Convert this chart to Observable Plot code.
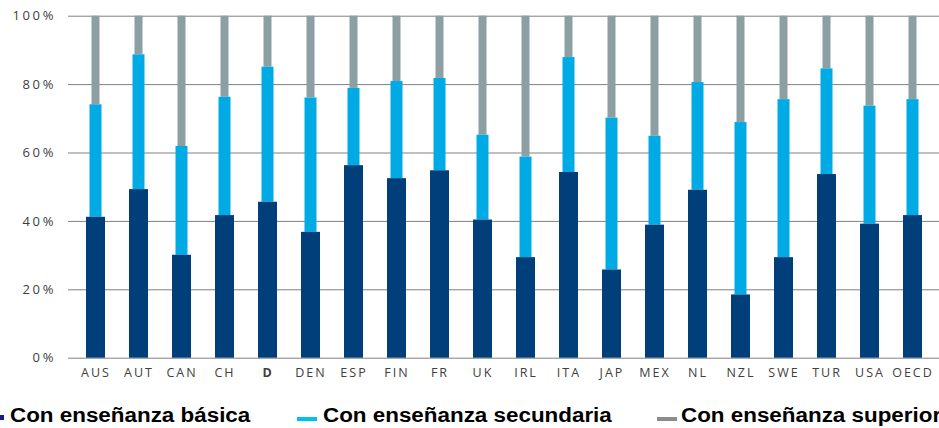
<!DOCTYPE html>
<html>
<head>
<meta charset="utf-8">
<script src="https://cdn.jsdelivr.net/npm/d3@7"></script>
<script src="https://cdn.jsdelivr.net/npm/@observablehq/plot@0.6"></script>
<style>
  html, body { margin: 0; padding: 0; background: #fff; }
  #wrap { width: 939px; height: 428px; overflow: hidden; position: relative; }
  #chart svg g[aria-label='x-axis tick label'] text { letter-spacing: 2px; }
  #chart svg g[aria-label='y-axis tick label'] text { letter-spacing: 2.6px; font-size: 13px; }
  #legend { position: relative; width: 939px; height: 28px; overflow: hidden; }
  .lg-text { position: absolute; top: 3px; font-family: "Liberation Sans", Arial, sans-serif; font-weight: bold; font-size: 20px; color: #000; white-space: nowrap; transform: scaleX(1.12); transform-origin: left center; line-height: 24px; }
  .lg-mark { position: absolute; }
</style>
</head>
<body>
<div id="wrap">
  <div id="chart"></div>
  <div id="legend"></div>
</div>
<script>
const countries = ["AUS","AUT","CAN","CH","D","DEN","ESP","FIN","FR","UK","IRL","ITA","JAP","MEX","NL","NZL","SWE","TUR","USA","OECD"];
const basica =     [41.2, 49.3, 30.1, 41.7, 45.6, 36.8, 56.3, 52.5, 54.8, 40.4, 29.4, 54.3, 25.8, 38.9, 49.1, 18.5, 29.4, 53.7, 39.2, 41.7];
const secundaria = [32.9, 39.4, 31.8, 34.6, 39.5, 39.3, 22.6, 28.4, 27.0, 24.8, 29.4, 33.6, 44.4, 26.0, 31.5, 50.4, 46.2, 30.9, 34.5, 33.9];
const superior =   [25.9, 11.3, 38.1, 23.7, 14.9, 23.9, 21.1, 19.1, 18.2, 34.8, 41.2, 12.1, 29.8, 35.1, 19.4, 31.1, 24.4, 15.4, 26.3, 24.4];
const yTicks = [0, 20, 40, 60, 80, 100];
const seriesNames = ["Con enseñanza básica", "Con enseñanza secundaria", "Con enseñanza superior"];
const colors = ["#003f7a", "#00abe5", "#8c9fa3"];

const data = countries.map((c, i) => ({c, b: basica[i], s: secundaria[i], u: superior[i]}));

const chart = Plot.plot({
  width: 939,
  height: 400,
  marginLeft: 73.5,
  marginRight: 5.5,
  marginTop: 15.7,
  marginBottom: 42.3,
  style: {fontFamily: "'Open Sans', sans-serif", fontSize: "12.5px", color: "#404040", background: "#fff"},
  x: {type: "band", domain: countries, padding: 0, label: null, tickSize: 0, tickPadding: 10},
  y: {domain: [0, 100], label: null, ticks: yTicks, tickSize: 0, tickPadding: 18, tickFormat: d => d + "%"},
  marks: [
    Plot.ruleY(yTicks, {stroke: "#808080", strokeWidth: 1, insetLeft: -5.5, insetRight: -6}),
    Plot.barY(data, {x: "c", y1: d => d.b + d.s, y2: d => d.b + d.s + d.u, fill: colors[2], insetLeft: 17.5, insetRight: 17.5}),
    Plot.barY(data, {x: "c", y1: d => d.b, y2: d => d.b + d.s, fill: colors[1], insetLeft: 15.5, insetRight: 15.5}),
    Plot.barY(data, {x: "c", y1: 0, y2: "b", fill: colors[0], insetLeft: 12, insetRight: 12})
  ]
});
document.getElementById("chart").appendChild(chart);
d3.select(chart).selectAll("g[aria-label='x-axis tick label'] text").each(function() {
  if (d3.select(this).text() === "D") d3.select(this).attr("font-weight", "bold");
});

const legend = document.getElementById("legend");
const items = [
  {mark: {left: -1, top: 15, width: 5, height: 5}, text: 10},
  {mark: {left: 297, top: 17, width: 20, height: 4}, text: 323},
  {mark: {left: 657, top: 17, width: 20, height: 4}, text: 681}
];
items.forEach((it, i) => {
  const m = document.createElement("div");
  m.className = "lg-mark";
  Object.assign(m.style, {left: it.mark.left + "px", top: it.mark.top + "px", width: it.mark.width + "px", height: it.mark.height + "px", background: i === 1 ? "#00c0f3" : (i === 2 ? "#8c8c8c" : "#1a1a8c")});
  legend.appendChild(m);
  const t = document.createElement("div");
  t.className = "lg-text";
  t.style.left = it.text + "px";
  t.textContent = seriesNames[i];
  legend.appendChild(t);
});
</script>
</body>
</html>
